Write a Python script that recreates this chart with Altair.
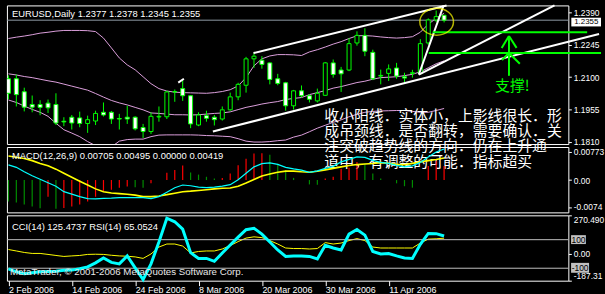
import json
import altair as alt
import pandas as pd

# ---------------- values ----------------
date_ticks = [0, 8, 16, 24, 32, 40, 48]
date_labels = ["2 Feb 2006", "14 Feb 2006", "24 Feb 2006", "8 Mar 2006",
               "20 Mar 2006", "30 Mar 2006", "11 Apr 2006"]

opens = [1.2093, 1.2093, 1.2035, 1.1978, 1.1978, 1.1984, 1.1978, 1.1903, 1.1921, 1.1918,
         1.1893, 1.1904, 1.1943, 1.1943, 1.1915, 1.1921, 1.1921, 1.1875, 1.1857, 1.1922,
         1.1923, 1.2034, 1.2049, 1.2017, 1.1886, 1.1928, 1.1921, 1.1913, 1.1954, 1.2012,
         1.2064, 1.2182, 1.2176, 1.2164, 1.2093, 1.2075, 1.1972, 1.2039, 1.2017, 1.1994,
         1.2019, 1.2164, 1.2132, 1.2132, 1.2253, 1.2287, 1.2211, 1.2105, 1.2117, 1.2141,
         1.2102, 1.2117, 1.2117, 1.2253, 1.2356, 1.2377]
highs = [1.2108, 1.2112, 1.2053, 1.2018, 1.1997, 1.2000, 1.2028, 1.1921, 1.1931, 1.1946,
         1.1928, 1.1950, 1.1987, 1.1949, 1.1936, 1.1972, 1.1925, 1.1891, 1.1943, 1.1969,
         1.2039, 1.2045, 1.2088, 1.2019, 1.1943, 1.1950, 1.1931, 1.1969, 1.2031, 1.2075,
         1.2191, 1.2208, 1.2194, 1.2166, 1.2115, 1.2079, 1.2043, 1.2063, 1.2024, 1.2049,
         1.2167, 1.2179, 1.2146, 1.2275, 1.2305, 1.2319, 1.2223, 1.2134, 1.2157, 1.2164,
         1.2120, 1.2133, 1.2270, 1.2363, 1.2398, 1.2378]
lows = [1.2001, 1.1969, 1.1947, 1.1943, 1.1930, 1.1940, 1.1886, 1.1881, 1.1866, 1.1876,
        1.1851, 1.1886, 1.1924, 1.1891, 1.1866, 1.1891, 1.1862, 1.1828, 1.1846, 1.1901,
        1.1913, 1.1990, 1.1994, 1.1872, 1.1881, 1.1901, 1.1884, 1.1906, 1.1950, 1.1997,
        1.2031, 1.2142, 1.2138, 1.2068, 1.2064, 1.1950, 1.1955, 1.2009, 1.1987, 1.1987,
        1.2017, 1.2098, 1.2034, 1.2127, 1.2241, 1.2194, 1.2087, 1.2068, 1.2083, 1.2093,
        1.2075, 1.2098, 1.2112, 1.2245, 1.2346, 1.2345]
closes = [1.2028, 1.2022, 1.1966, 1.1966, 1.1965, 1.1963, 1.1895, 1.1900, 1.1895, 1.1893,
          1.1910, 1.1938, 1.1931, 1.1913, 1.1913, 1.1913, 1.1869, 1.1857, 1.1925, 1.1925,
          1.2034, 1.2036, 1.2017, 1.1891, 1.1931, 1.1916, 1.1910, 1.1954, 1.2012, 1.2068,
          1.2182, 1.2194, 1.2157, 1.2090, 1.2072, 1.1972, 1.2039, 1.2017, 1.2001, 1.2028,
          1.2164, 1.2112, 1.2115, 1.2250, 1.2287, 1.2216, 1.2093, 1.2108, 1.2137, 1.2105,
          1.2096, 1.2120, 1.2250, 1.2356, 1.2371, 1.2355]

bb_upper = [1.2273, 1.2279, 1.2284, 1.2290, 1.2297, 1.2301, 1.2306, 1.2309, 1.2309, 1.2309,
            1.2308, 1.2304, 1.2275, 1.2231, 1.2186, 1.2155, 1.2133, 1.2102, 1.2071, 1.2049,
            1.2038, 1.2033, 1.2031, 1.2030, 1.2029, 1.2028, 1.2031, 1.2036, 1.2044, 1.2061,
            1.2098, 1.2151, 1.2182, 1.2195, 1.2201, 1.2201, 1.2200, 1.2197, 1.2213, 1.2223,
            1.2235, 1.2248, 1.2259, 1.2273, 1.2285, 1.2286, 1.2284, 1.2280, 1.2277, 1.2275,
            1.2277, 1.2281, 1.2301, 1.2337, 1.2363, 1.2386]
bb_middle = [1.2115, 1.2110, 1.2103, 1.2098, 1.2091, 1.2084, 1.2078, 1.2069, 1.2060, 1.2051,
             1.2042, 1.2027, 1.2011, 1.1996, 1.1985, 1.1976, 1.1965, 1.1954, 1.1940, 1.1938,
             1.1935, 1.1932, 1.1932, 1.1931, 1.1932, 1.1935, 1.1938, 1.1940, 1.1945, 1.1955,
             1.1965, 1.1972, 1.1980, 1.1986, 1.1991, 1.2000, 1.2005, 1.2009, 1.2022, 1.2031,
             1.2040, 1.2051, 1.2058, 1.2067, 1.2076, 1.2082, 1.2091, 1.2098, 1.2100, 1.2102,
             1.2107, 1.2113, 1.2124, 1.2142, 1.2160, 1.2173]
bb_lower = [1.1998, 1.1987, 1.1971, 1.1956, 1.1943, 1.1925, 1.1894, 1.1865, 1.1850, 1.1834,
            1.1812, 1.1794, 1.1783, 1.1788, 1.1814, 1.1821, 1.1823, 1.1823, 1.1834, 1.1841,
            1.1842, 1.1842, 1.1842, 1.1842, 1.1841, 1.1839, 1.1838, 1.1836, 1.1834, 1.1825,
            1.1814, 1.1810, 1.1810, 1.1812, 1.1816, 1.1819, 1.1832, 1.1841, 1.1856, 1.1872,
            1.1885, 1.1898, 1.1909, 1.1923, 1.1934, 1.1943, 1.1947, 1.1949, 1.1950, 1.1951,
            1.1951, 1.1947, 1.1943, 1.1943, 1.1951, 1.1960]

macd_main = [0.00418, 0.00350, 0.00227, 0.00117, 0.00022, -0.00074, -0.00169, -0.00320, -0.00388, -0.00456,
             -0.00511, -0.00519, -0.00503, -0.00497, -0.00483, -0.00483, -0.00483, -0.00483, -0.00511, -0.00456,
             -0.00333, -0.00210, -0.00137, -0.00156, -0.00197, -0.00210, -0.00197, -0.00169, -0.00128, 0.00008,
             0.00186, 0.00363, 0.00453, 0.00473, 0.00432, 0.00350, 0.00309, 0.00273, 0.00213, 0.00254,
             0.00322, 0.00377, 0.00500, 0.00568, 0.00636, 0.00623, 0.00541, 0.00486, 0.00459, 0.00404,
             0.00363, 0.00391, 0.00486, 0.00636, 0.00773, 0.00855]
macd_signal = [0.00664, 0.00628, 0.00595, 0.00535, 0.00459, 0.00391, 0.00300, 0.00186, 0.00076, -0.00033,
               -0.00137, -0.00243, -0.00320, -0.00355, -0.00374, -0.00393, -0.00415, -0.00456, -0.00456, -0.00437,
               -0.00402, -0.00361, -0.00320, -0.00306, -0.00287, -0.00265, -0.00243, -0.00224, -0.00219, -0.00169,
               -0.00082, 0.00016, 0.00112, 0.00167, 0.00213, 0.00246, 0.00246, 0.00227, 0.00213, 0.00240,
               0.00281, 0.00322, 0.00363, 0.00399, 0.00426, 0.00440, 0.00456, 0.00481, 0.00464, 0.00432,
               0.00423, 0.00459, 0.00500, 0.00535, 0.00568, 0.00609]
macd_hist = [-0.0059, -0.0062, -0.0067, -0.0073, -0.0078, -0.0046, -0.0079, -0.0077, -0.0073, -0.0067,
             -0.0059, -0.0046, -0.0030, -0.0027, -0.0021, -0.0018, -0.0020, -0.0021, -0.0009, 0.0,
             0.0020, 0.0028, 0.0040, 0.0021, 0.0015, 0.0009, 0.0004, 0.0006, 0.0018, 0.0041,
             0.0059, 0.0073, 0.0074, 0.0070, 0.0045, 0.0027, 0.0006, 0.0, -0.0012, -0.0013,
             0.0004, 0.0009, 0.0031, 0.0034, 0.0050, 0.0045, 0.0018, 0.0004, 0.0, -0.0009,
             -0.0017, -0.0021, 0.0, 0.0039, 0.0053, 0.0039]
macd_hist_dir = ["g", "g", "g", "g", "g", "r", "g", "r", "r", "r",
                 "r", "r", "r", "r", "r", "r", "g", "g", "r", "g",
                 "r", "r", "r", "g", "g", "g", "g", "r", "r", "r",
                 "r", "r", "r", "g", "g", "g", "g", "g", "g", "g",
                 "r", "r", "r", "r", "r", "g", "g", "g", "g", "g",
                 "g", "g", "r", "r", "r", "r"]

cci = [-104.1, -124.9, -138.7, -131.8, -124.9, -122.8, -121.4, -114.5, -113.1, -104.1,
       -90.2, -62.4, -27.8, -59.0, -69.4, -13.9, -97.1, -180.0, -69.4, 83.2,
       250.0, 225.4, 173.4, 9.0, -31.2, -31.2, -52.0, 6.9, 62.4, 117.9,
       169.9, 180.3, 138.7, 83.2, 27.7, -17.4, -13.9, -13.9, -17.4, -34.7,
       60.3, 41.6, 27.7, 138.7, 171.3, 131.8, 17.3, 0.0, 3.4, -13.9,
       -27.8, -31.2, 67.3, 143.6, 142.2, 125.47]
rsi = [47.7, 45.5, 43.2, 41.7, 41.7, 40.2, 38.6, 37.1, 37.9, 38.6,
       40.2, 40.5, 40.2, 38.9, 37.9, 37.4, 36.4, 34.1, 40.9, 51.5,
       56.1, 56.1, 53.0, 42.4, 44.7, 45.5, 45.5, 48.5, 53.8, 59.8,
       65.2, 67.1, 65.9, 61.4, 56.1, 50.0, 49.2, 49.2, 48.5, 49.2,
       58.3, 56.1, 57.6, 61.4, 64.4, 61.4, 51.5, 50.0, 50.0, 50.0,
       50.0, 50.0, 57.6, 63.6, 64.1, 65.05]

price_ticks = [1.2390, 1.2245, 1.2100, 1.1955, 1.1810]
bid_price = 1.2355
macd_ticks = [0.00773, 0.0, -0.0074]
cci_ticks = [270.49, 0.0, -187.31]
cci_levels = [100, -100]

title_main = "EURUSD,Daily  1.2377 1.2378 1.2345 1.2355"
title_macd = "MACD(12,26,9) 0.00705 0.00495 0.00000 0.00419"
title_cci = "CCI(14) 125.4737  RSI(14) 65.0524"
watermark = "MetaTrader, \u00a9 2001-2006 MetaQuotes Software Corp."
comment_lines = ["收小阳线．实体小，上影线很长．形",
                 "成吊颈线．是否翻转，需要确认．关",
                 "注突破趋势线的方向．仍在上升通",
                 "道中，有调整的可能．指标超买"]
comment_price = [1.1927, 1.1858, 1.1790, 1.1721]
support_text = "支撑!"

# drawn objects (bar index / price)
trend_i1 = [30.94, 25.81, 51.81, 51.81]
trend_p1 = [1.2208, 1.1857, 1.2112, 1.2112]
trend_i2 = [55.31, 74.56, 54.94, 68.94]
trend_p2 = [1.2421, 1.2293, 1.2421, 1.2421]
support_i1 = [53.56, 53.06]
support_i2 = [73.06, 74.81]
support_p = [1.2301, 1.2208]
arrow_i1 = [63.19, 63.19, 63.19, 63.19, 63.19]
arrow_p1 = [1.2284, 1.2284, 1.2284, 1.2208, 1.2208]
arrow_i2 = [63.19, 62.27, 64.15, 62.31, 64.56]
arrow_p2 = [1.2106, 1.2231, 1.2231, 1.2177, 1.2160]

# ---------------- tables ----------------
idx = list(range(len(opens)))
candles = pd.DataFrame({"i": idx, "open": opens, "high": highs, "low": lows, "close": closes})
candles["dir"] = ["down" if c < o else "up" for o, c in zip(opens, closes)]
bands = pd.concat([pd.DataFrame({"i": idx, "v": arr, "band": name})
                   for name, arr in [("upper", bb_upper), ("middle", bb_middle), ("lower", bb_lower)]])
macd_df = pd.DataFrame({"i": idx, "main": macd_main, "signal": macd_signal,
                        "h": macd_hist, "hc": macd_hist_dir, "zero": [0.0] * len(idx)})
osc_df = pd.DataFrame({"i": idx, "cci": cci, "rsi": rsi})

W = 567
LIME = "#00ff00"
FONT = "Liberation Sans"

x_scale = alt.Scale(domain=[-0.1875, 70.6875], nice=False, zero=False, padding=0)
price_scale = alt.Scale(domain=[1.1801, 1.2421], nice=False, zero=False)
macd_scale = alt.Scale(domain=[-0.0089, 0.0091], nice=False, zero=False)
cci_scale = alt.Scale(domain=[-187.31, 270.49], nice=False, zero=False)
rsi_scale = alt.Scale(domain=[0, 100], nice=False, zero=False)

main_axis = alt.Axis(orient="right", values=price_ticks, format=".4f", title=None)
macd_axis = alt.Axis(orient="right", values=macd_ticks, title=None,
                     labelExpr="datum.value > 0.001 ? '0.00773' : (datum.value < -0.001 ? '-0.0074' : '0.00')")
cci_axis = alt.Axis(orient="right", values=cci_ticks, title=None, labelFlush=True,
                    labelExpr="datum.value > 200 ? '270.490' : (datum.value < -150 ? '-187.31' : '0.00')")
date_axis = alt.Axis(orient="bottom", values=date_ticks, title=None, labelAlign="left",
                     labelFlush=False, tickSize=5, labelPadding=0, labelFontSize=9,
                     labelBaseline="top",
                     labelExpr=f"{json.dumps(date_labels)}[indexof({json.dumps(date_ticks)}, datum.value)]")


def X(f):
    return alt.X(f"{f}:Q", scale=x_scale, axis=None, title=None)


def XD(f):
    return alt.X(f"{f}:Q", scale=x_scale, axis=date_axis, title=None)


def YP(f):
    return alt.Y(f"{f}:Q", scale=price_scale, axis=main_axis, title=None)


def label(text, x, y, size=9.5, color="white", font=FONT):
    return alt.Chart(pd.DataFrame({"t": [text]})).mark_text(
        align="left", baseline="middle", font=font, fontSize=size, color=color
    ).encode(x=alt.value(x), y=alt.value(y), text="t:N")


# ---------------- main panel ----------------
band_layer = alt.Chart(bands).mark_line(color="#dda0dd", strokeWidth=1, clip=True).encode(
    x=X("i"), y=YP("v"), detail="band:N")
bid_layer = alt.Chart(pd.DataFrame({"p": [bid_price]})).mark_rule(color="#8f9ba6", strokeWidth=1).encode(
    y=YP("p"))
wick_layer = alt.Chart(candles).mark_rule(color=LIME, strokeWidth=1, clip=True).encode(
    x=X("i"), y=YP("low"), y2="high:Q")
body_layer = alt.Chart(candles).mark_bar(size=4, stroke=LIME, strokeWidth=1, clip=True).encode(
    x=X("i"), y=YP("open"), y2="close:Q",
    fill=alt.Fill("dir:N", scale=alt.Scale(domain=["up", "down"], range=["black", "white"]), legend=None))

trend_df = pd.DataFrame({"i1": trend_i1, "p1": trend_p1, "i2": trend_i2, "p2": trend_p2})
trend_layer = alt.Chart(trend_df).mark_rule(color="white", strokeWidth=2).encode(
    x=X("i1"), x2="i2:Q", y=YP("p1"), y2="p2:Q")
slash_df = pd.DataFrame({"i1": [21.44], "p1": [1.2076], "i2": [22.15], "p2": [1.2093]})
slash_layer = alt.Chart(slash_df).mark_rule(color="white", strokeWidth=2).encode(
    x=X("i1"), x2="i2:Q", y=YP("p1"), y2="p2:Q")
support_df = pd.DataFrame({"i1": support_i1, "i2": support_i2, "p": support_p})
support_layer = alt.Chart(support_df).mark_rule(color=LIME, strokeWidth=2).encode(
    x=X("i1"), x2="i2:Q", y=YP("p"))
arrow_df = pd.DataFrame({"i1": arrow_i1, "p1": arrow_p1, "i2": arrow_i2, "p2": arrow_p2})
arrow_layer = alt.Chart(arrow_df).mark_rule(color=LIME, strokeWidth=2).encode(
    x=X("i1"), x2="i2:Q", y=YP("p1"), y2="p2:Q")
support_txt = alt.Chart(pd.DataFrame({"i": [61.44], "p": [1.2062], "t": [support_text]})).mark_text(
    align="left", baseline="middle", font="Noto Sans CJK SC", fontSize=15, color=LIME).encode(
    x=X("i"), y=YP("p"), text="t:N")
ellipse_layer = alt.Chart(pd.DataFrame({"i": [54.06], "p": [1.2348]})).mark_point(
    shape="M-1,0A1,0.8,0,1,1,1,0A1,0.8,0,1,1,-1,0Z", size=1156, filled=False,
    color="#ffff00", strokeWidth=1.5).encode(x=X("i"), y=YP("p"))
comment_df = pd.DataFrame({"i": [39.875] * 4, "p": comment_price, "t": comment_lines})
comment_layer = alt.Chart(comment_df).mark_text(
    align="left", baseline="middle", font="Noto Sans CJK SC", fontSize=15, color="white").encode(
    x=X("i"), y=YP("p"), text="t:N")
box_df = pd.DataFrame({"i1": [71.06], "i2": [74.81], "p1": [1.2327], "p2": [1.2366]})
box_layer = alt.Chart(box_df).mark_rect(color="white").encode(
    x=X("i1"), x2="i2:Q", y=YP("p1"), y2="p2:Q")
box_txt = alt.Chart(pd.DataFrame({"i": [72.95], "p": [1.2347], "t": ["1.2355"]})).mark_text(
    align="center", baseline="middle", font=FONT, fontSize=8, color="black").encode(
    x=X("i"), y=YP("p"), text="t:N")

main = alt.layer(
    band_layer, bid_layer, wick_layer, body_layer, trend_layer, slash_layer,
    support_layer, arrow_layer, support_txt, ellipse_layer, box_layer, box_txt,
    label(title_main, 5, 8.7), comment_layer,
).properties(width=W, height=140)

# ---------------- MACD panel ----------------
YM = lambda f: alt.Y(f"{f}:Q", scale=macd_scale, axis=macd_axis, title=None)
hist_layer = alt.Chart(macd_df).mark_rule(strokeWidth=1.2).encode(
    x=X("i"), y=YM("h"), y2="zero:Q",
    color=alt.Color("hc:N", scale=alt.Scale(domain=["r", "g"], range=["#ff0000", "#008c00"]), legend=None))
main_line = alt.Chart(macd_df).mark_line(color="#00ffff", strokeWidth=1.2).encode(x=X("i"), y=YM("main"))
sig_line = alt.Chart(macd_df).mark_line(color="#ffff00", strokeWidth=1.6).encode(x=X("i"), y=YM("signal"))
macd = alt.layer(hist_layer, sig_line, main_line, label(title_macd, 5, 8.7)).properties(width=W, height=66)

# ---------------- CCI / RSI panel ----------------
YC = lambda f: alt.Y(f"{f}:Q", scale=cci_scale, axis=cci_axis, title=None)
lvl_layer = alt.Chart(pd.DataFrame({"lvl": cci_levels})).mark_rule(color="#c0c0c0", strokeWidth=1).encode(
    y=YC("lvl"))
cci_line = alt.Chart(osc_df).mark_line(color="#00ffff", strokeWidth=3).encode(x=XD("i"), y=YC("cci"))
lvl_box_df = pd.DataFrame({"i1": [71.03, 71.03], "i2": [72.9, 73.3], "c1": [69.3, -131.8], "c2": [131.7, -62.5]})
lvl_box = alt.Chart(lvl_box_df).mark_rect(color="#c0c0c0").encode(
    x=XD("i1"), x2="i2:Q", y=YC("c1"), y2="c2:Q")
lvl_txt = alt.Chart(pd.DataFrame({"i": [71.97, 72.17], "c": [100, -100], "t": ["100", "-100"]})).mark_text(
    align="center", baseline="middle", font=FONT, fontSize=8.5, color="black").encode(
    x=XD("i"), y=YC("c"), text="t:N")
cci_part = alt.layer(lvl_layer, cci_line, lvl_box, lvl_txt)
rsi_line = alt.Chart(osc_df).mark_line(color="#ffff00", strokeWidth=1).encode(
    x=XD("i"), y=alt.Y("rsi:Q", scale=rsi_scale, axis=None, title=None))
osc = alt.layer(
    rsi_line, cci_part, label(title_cci, 5, 11.5), label(watermark, 3, 57, size=9.8, color="#e8e8e8")
).resolve_scale(y="independent").properties(width=W, height=66)

chart = alt.vconcat(main, macd, osc, spacing=3, bounds="flush").properties(
    background="black",
    padding={"left": 2, "top": 2, "right": 0, "bottom": 0},
).configure_view(stroke="white", strokeWidth=1).configure_axis(
    grid=False, domain=False, labelColor="white", tickColor="white", labelFont=FONT,
    labelFontSize=8.5, tickSize=3, labelPadding=2,
)

chart.save("out.html", embed_options={"renderer": "svg", "actions": False})
